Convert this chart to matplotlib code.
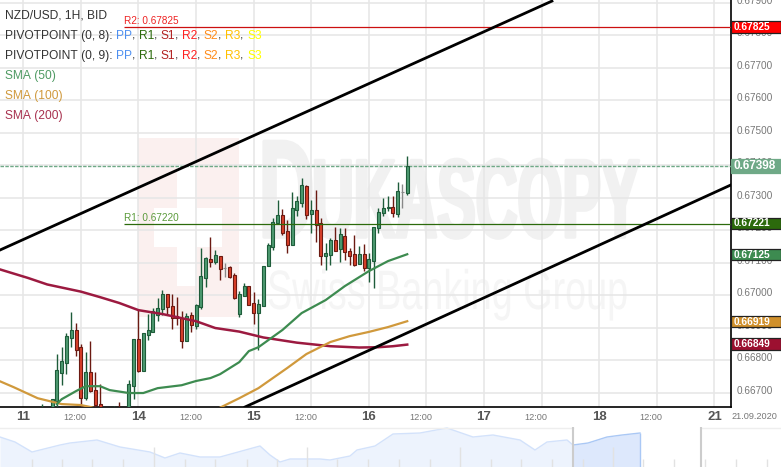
import numpy as np
import matplotlib
matplotlib.use('Agg')
import matplotlib.pyplot as plt
from matplotlib.patches import Rectangle
from matplotlib.patheffects import AbstractPathEffect
from matplotlib.transforms import Affine2D, ScaledTranslation

plt.rcParams['font.family'] = ['Liberation Sans', 'DejaVu Sans']

nan = float('nan')

# velas de 1H, la primera es el 11.09 a las 04:00 (horas contadas desde el 14.09 00:00)
first_hour = -20
opens = [.66620, nan, .66631, .66674, .66760, .66791, .66868, .66893, .66840, .66683, .66763, .66708, .66665,
         nan, nan, .66620, .66640, nan, .66646, .66720, .66865, .66766, .66877, .66886, .66939, .66957, .67003,
         .66966, .66936, .66930, .66859, .66939, .66905, .66963, .67053, .67111, .67102, .67120, .67083, .67086,
         .67062, .66942, .66997, .67028, .66975, .66945, .66966, .67089, .67148, .67222, .67246, .67197, .67154,
         .67262, .67283, .67336, .67250, .67262, .67222, .67120, .67123, .67170, .67142, .67182, .67136, .67126,
         .67096, .67126, .67083, .67105, .67206, .67253, .67268, .67271, .67250, .67317, .67314]
highs = [.66665, nan, .66680, .66819, .66840, .66883, .66948, .66914, .66850, .66825, .66859, .66763, .66726,
         nan, nan, .66659, .66671, nan, .66739, .66865, .66954, .66883, .66942, .66960, .66991, .67016, .67003,
         .67003, .66994, .66951, .66945, .66948, .66972, .67145, .67117, .67179, .67139, .67120, .67099, .67090,
         .67068, .67012, .67037, .67028, .67010, .66988, .67089, .67160, .67237, .67293, .67265, .67231, .67317,
         .67305, .67360, .67339, .67293, .67323, .67237, .67160, .67176, .67210, .67206, .67206, .67145, .67185,
         .67151, .67157, .67130, .67210, .67268, .67299, .67305, .67305, .67348, .67342, .67428]
lows = [.66600, nan, .66620, .66650, .66723, .66757, .66840, .66813, .66640, .66677, .66702, .66646, .66600,
        nan, nan, .66610, .66610, nan, .66640, .66680, .66763, .66766, .66862, .66886, .66920, .66939, .66939,
        .66896, .66908, .66837, .66859, .66886, .66896, .66957, .67025, .67086, .67096, .67046, .67056, .67053,
        .66988, .66933, .66997, .66969, .66911, .66831, .66966, .67089, .67139, .67222, .67185, .67130, .67154,
        .67243, .67271, .67234, .67191, .67163, .67093, .67077, .67093, .67136, .67102, .67108, .67093, .67090,
        .67096, .67074, .67040, .67022, .67191, .67243, .67259, .67240, .67240, .67268, .67308]
closes = [.66640, nan, .66680, .66770, .66797, .66874, .66893, .66831, .66683, .66763, .66705, .66662, .66616,
          nan, nan, .66640, .66620, nan, .66726, .66865, .66766, .66883, .66893, .66951, .66960, .67003, .66963,
          .66930, .66930, .66859, .66936, .66908, .66969, .67059, .67114, .67102, .67123, .67080, .67083, .67056,
          .66991, .67003, .67028, .66969, .66945, .66972, .67089, .67154, .67225, .67246, .67191, .67154, .67268,
          .67290, .67339, .67246, .67262, .67216, .67120, .67130, .67170, .67136, .67188, .67133, .67120, .67093,
          .67126, .67083, .67111, .67210, .67256, .67268, .67271, .67253, .67320, .67317, .67398]

# medias moviles
sma50_hours = [-17, -16, -13, -11, -8, -6, -2, 1, 4, 9, 12, 15, 17, 21, 23, 25, 30, 34, 39, 43, 48, 52, 56]
sma50_vals = [.66665, .66680, .66705, .66720, .66720, .66708, .66699, .66699, .66714, .66723, .66736, .66745,
              .66757, .66794, .66828, .66840, .66893, .66945, .66985, .67028, .67074, .67105, .67126]
sma100_hours = [-29, -26, -21, -16, -12, -10, -5, 5, 12, 17, 21, 25, 31, 35, 40, 44, 48, 52, 56]
sma100_vals = [.66736, .66717, .66683, .66665, .66662, .66656, .66634, .66603, .66616, .66654, .66683, .66714,
               .66776, .66819, .66856, .66874, .66887, .66902, .66920]
sma200_hours = [-29, -23, -19, -12, -8, -4, 0, 5, 12, 16, 21, 26, 33, 40, 46, 50, 53, 56]
sma200_vals = [.67080, .67053, .67033, .67011, .66994, .66976, .66954, .66942, .66920, .66899, .66888, .66870,
               .66854, .66843, .66839, .66840, .66843, .66848]

# canal dibujado a mano
upper_hours, upper_prices = [-28.85, 86.15], [.67139, .67905]
lower_hours, lower_prices = [22.2, 123.4], [.66656, .67339]

r1_level, r2_level, last_price = .67220, .67825, .67398
pivot_start_hour = -3

y_ticks = [.667, .668, .669, .670, .671, .672, .673, .674, .675, .676, .677, .678, .679]
x_ticks = [-24, -12, 0, 12, 24, 36, 48, 60, 72, 84, 96, 108, 120]
x_labels = ['11', '12:00', '14', '12:00', '15', '12:00', '16', '12:00', '17', '12:00', '18', '12:00', '21']

price_boxes = ['0.67825', '0.67398', '0.67221', '0.67125', '0.66919', '0.66849']
box_levels = [.67825, .67398, .67221, .67125, .66919, .66849]
box_colors = ['#ff0000', '#6fa987', '#2c6a0c', '#3d8b50', '#d0902c', '#9c1030']

# navegador inferior
nav_x = [0, 15, 32, 60, 70, 97, 120, 150, 165, 180, 200, 220, 260, 270, 280, 290, 320, 330, 350, 357, 375, 393,
         420, 447, 473, 493, 520, 535, 547, 567, 573, 588, 607, 622, 640]
nav_h = [30, 25, 15, 22, 24, 27, 20, 15, 9, 14, 10, 10, 21, 12, 5, 8, 8, 7, 11, 17, 21, 33, 34, 39, 30, 32, 27,
         17, 25, 27, 22, 24, 30, 32, 34]
nav_tick_x = [32, 62, 92, 123, 154, 185, 215, 247, 277, 307, 337, 368, 399, 430, 460, 491, 521, 552, 583, 613,
              643, 674, 705, 736, 767]
nav_tall = [154, 307, 460, 613]
nav_split = 573

legend_rows = [
    [('NZD/USD, 1H, BID', '#333333')],
    [('PIVOTPOINT (0, 8): ', '#333333')],
    [('PIVOTPOINT (0, 9): ', '#333333')],
    [('SMA (50)', '#4f9a63')],
    [('SMA (100)', '#d0993c')],
    [('SMA (200)', '#a8324f')],
]
pivot_names = ['PP', 'R1', 'S1', 'R2', 'S2', 'R3', 'S3']
pivot_colors = ['#4d8ff0', '#2c6a0c', '#b22222', '#ff2020', '#ff8c1a', '#ffc000', '#ffff00']


class Squeeze(AbstractPathEffect):
    # la marca de agua es mucho mas estrecha que cualquier fuente instalada
    def __init__(self, x0, sx, stroke=0):
        self.x0, self.sx, self.stroke = x0, sx, stroke

    def draw_path(self, renderer, gc, tpath, affine, rgbFace=None):
        squeeze = Affine2D().translate(-self.x0, 0).scale(self.sx, 1).translate(self.x0, 0)
        gc0 = renderer.new_gc()
        gc0.copy_properties(gc)
        gc0.set_linewidth(self.stroke)
        gc0.set_foreground(rgbFace)
        renderer.draw_path(gc0, tpath, affine + squeeze, rgbFace)
        gc0.restore()


fig = plt.figure(figsize=(7.81, 4.67), dpi=100, facecolor='white')

# fondo con la marca de agua, en pixeles
bg = fig.add_axes([0, 0, 1, 1], zorder=0)
bg.set_xlim(0, 781)
bg.set_ylim(467, 0)
bg.axis('off')
bg.add_patch(Rectangle((138, 138), 101, 179, color='#fbf0ef', lw=0))
bg.add_patch(Rectangle((154, 208), 68, 39, color='white', lw=0))
bg.add_patch(Rectangle((177, 165), 20, 121, color='white', lw=0))
bg.text(259, 237, 'D', fontsize=100, fontweight='bold', color='#f1f1f1', va='baseline',
        path_effects=[Squeeze(259, 0.55, 2.5)])
bg.text(312, 237, 'UKASCOPY', fontsize=80, fontweight='bold', color='#f1f1f1', va='baseline',
        path_effects=[Squeeze(312, 0.52, 2.5)])
bg.text(267, 309, 'Swiss Banking Group', fontsize=40, color='#f5f5f5', va='baseline',
        path_effects=[Squeeze(267, 0.68)])

# grafico principal
ax = fig.add_axes([0, 60 / 467, 731 / 781, 407 / 467], zorder=1)
ax.patch.set_alpha(0)
ax.set_xlim(-28.85, 123.46)
ax.set_ylim(.66656, .679083)
for side in ['left', 'top']:
    ax.spines[side].set_visible(False)
for side in ['right', 'bottom']:
    ax.spines[side].set_linewidth(1.2)
    ax.spines[side].set_color('black')
ax.grid(True, color='#e6e6e6', lw=1.1)
ax.set_axisbelow(True)
ax.yaxis.tick_right()
ax.set_yticks(y_ticks)
ax.set_yticklabels(['%.5f' % v for v in y_ticks], fontsize=7.2, color='#777777')
ax.tick_params(axis='y', length=0, pad=4)
ax.set_xticks(x_ticks)
ax.set_xticklabels(x_labels)
ax.tick_params(axis='x', length=0, pad=3)
for lab in ax.get_yticklabels():
    lab.set_transform(lab.get_transform() + ScaledTranslation(0, 2 / 72, fig.dpi_scale_trans))
for lab in ax.get_xticklabels():
    if ':' in lab.get_text():
        lab.set_fontsize(6.6)
        lab.set_color('#777777')
        lab.set_transform(lab.get_transform() + ScaledTranslation(-4 / 72, -1.5 / 72, fig.dpi_scale_trans))
    else:
        lab.set_fontsize(9.5)
        lab.set_fontweight('bold')
        lab.set_color('#555555')

ax.text(1.001, -0.0135, '21.09.2020', transform=ax.transAxes, fontsize=6.6, color='#777777', ha='left', va='top',
        clip_on=False)

# velas
o = np.array(opens)
h = np.array(highs)
l = np.array(lows)
c = np.array(closes)
hours = first_hour + np.arange(len(o))
for i in range(len(o)):
    if np.isnan(o[i]):
        continue
    if c[i] == o[i]:
        edge, face = '#888888', '#888888'
    elif c[i] > o[i]:
        edge, face = '#1e5c3a', '#4d9a70'
    else:
        edge, face = '#6b1a12', '#d9402a'
    ax.vlines(hours[i], l[i], h[i], color=edge, lw=1, zorder=3)
    ax.bar(hours[i], c[i] - o[i], bottom=o[i], width=0.62, color=face, edgecolor=edge, lw=0.8, zorder=3.2)

ax.plot(sma200_hours, sma200_vals, color='#9c1a40', lw=1.8, zorder=3.5)
ax.plot(sma100_hours, sma100_vals, color='#d0993c', lw=1.6, zorder=3.5)
ax.plot(sma50_hours, sma50_vals, color='#3d8b50', lw=1.6, zorder=3.5)
ax.plot(upper_hours, upper_prices, color='black', lw=2.0, zorder=4)
ax.plot(lower_hours, lower_prices, color='black', lw=2.0, zorder=4)

# niveles pivote y precio actual
ax.hlines(r2_level, pivot_start_hour, ax.get_xlim()[1], color='#cc1010', lw=0.9, zorder=3)
ax.hlines(r1_level, pivot_start_hour, ax.get_xlim()[1], color='#2c6a0c', lw=0.9, zorder=3.6)
ax.axhline(last_price, color='#6fa987', lw=1, dashes=(2.5, 1), zorder=3)
ax.text(pivot_start_hour, r2_level + .00003, 'R2: 0.67825', fontsize=7.2, color='#ee2222', va='bottom')
ax.text(pivot_start_hour, r1_level + .00003, 'R1: 0.67220', fontsize=7.2, color='#5a9a3a', va='bottom')

# etiquetas de precio sobre el eje
tr = ax.get_yaxis_transform()
for text, level, col in zip(price_boxes, box_levels, box_colors):
    big = text == '0.67398'
    half = .00022 if big else .00018
    ax.add_patch(Rectangle((1.0, level - half), 50 / 731, 2 * half, transform=tr, facecolor=col,
                           edgecolor=col if big else '#222222', lw=0.9, clip_on=False, zorder=6))
    ax.text(1.0 + (3 / 731), level, text, transform=tr, color='white', fontsize=8.5 if big else 7.3,
            fontweight='bold', va='center', ha='left', clip_on=False, zorder=7)

# navegador
nav = fig.add_axes([0, 0, 1, 40 / 467], zorder=1)
nav.set_xlim(0, 781)
nav.set_ylim(0, 40)
nav.axis('off')
nx = np.array(nav_x)
nh = np.array(nav_h)
left = nx <= nav_split
right = nx >= nav_split
nav.fill_between(nx[left], 0, nh[left], color='#edf3fd', lw=0)
nav.plot(nx[left], nh[left], color='#d3e2fb', lw=1)
nav.fill_between(nx[right], 0, nh[right], color='#dde8fc', lw=0)
nav.plot(nx[right], nh[right], color='#aac8f5', lw=1)
nav.vlines(nx[-1], 0, nh[-1], color='#aac8f5', lw=1)
for t in nav_tick_x:
    nav.vlines(t, 0, 20 if t in nav_tall else 8, color='#e2e2e2', lw=1)
nav.plot([0, nav_split], [39.5, 39.5], color='#eeeeee', lw=1)
nav.plot([701, 781], [39.5, 39.5], color='#eeeeee', lw=1)
nav.vlines([nav_split, 701], 0, 40, color='#cccccc', lw=1.5)

# leyenda, en pixeles
over = fig.add_axes([0, 0, 1, 1], zorder=2)
over.set_xlim(0, 781)
over.set_ylim(467, 0)
over.axis('off')
renderer = fig.canvas.get_renderer()
row_y = [16, 36, 56, 76, 96, 116]
for row, y in zip(legend_rows, row_y):
    x = 5
    pieces = list(row)
    if row[0][0].startswith('PIVOT'):
        for k, (name, col) in enumerate(zip(pivot_names, pivot_colors)):
            pieces.append((name, col))
            if k < len(pivot_names) - 1:
                pieces.append((', ', '#333333'))
    for txt, col in pieces:
        t = over.text(x, y, txt.replace(' ', '\u00a0'), fontsize=8.65, color=col, va='center', ha='left')
        x = t.get_window_extent(renderer).x1

fig.savefig('out.png', dpi=100)
